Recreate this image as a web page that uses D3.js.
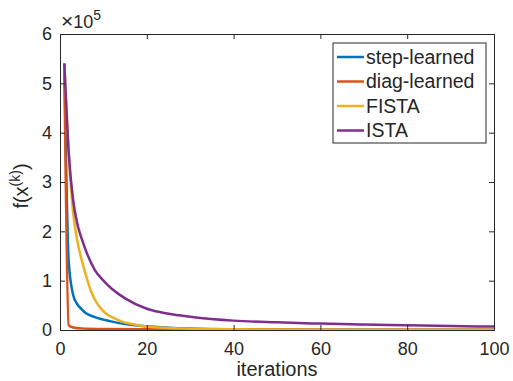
<!DOCTYPE html>
<html>
<head>
<meta charset="utf-8">
<script src="https://cdn.jsdelivr.net/npm/d3@7"></script>
<style>
  body { margin: 0; background: #fff; }
  text { font-family: "Liberation Sans", Arial, sans-serif; fill: #262626; }
</style>
</head>
<body>
<div id="chart"></div>
<script>
const stepIters = [1, 2, 3, 4, 5, 6, 8, 10, 12, 15, 20, 25, 30, 40, 60, 100];
const stepVals  = [5.4, 1.4, 0.72, 0.52, 0.42, 0.34, 0.26, 0.21, 0.17, 0.12, 0.075, 0.045, 0.028, 0.014, 0.006, 0.003];

const diagIters = [1, 2, 3, 5, 10, 30, 100];
const diagVals  = [5.4, 0.1, 0.05, 0.03, 0.02, 0.01, 0.005];

const fistaIters = [1, 2, 3, 4, 5, 6, 7, 8, 9, 10, 11, 12, 14, 16, 18, 20, 25, 30, 40, 60, 100];
const fistaVals  = [5.4, 3.6, 2.4, 1.8, 1.42, 1.1, 0.82, 0.62, 0.48, 0.38, 0.31, 0.26, 0.18, 0.13, 0.095, 0.07, 0.042, 0.027, 0.013, 0.006, 0.003];

const istaIters = [1, 2, 3, 4, 5, 6, 8, 10, 12, 15, 20, 25, 30, 40, 50, 60, 70, 80, 90, 100];
const istaVals  = [5.4, 3.6, 2.65, 2.15, 1.85, 1.6, 1.22, 1.0, 0.83, 0.64, 0.43, 0.33, 0.27, 0.19, 0.155, 0.13, 0.11, 0.095, 0.08, 0.07];

const seriesNames = ["step-learned", "diag-learned", "FISTA", "ISTA"];
const colors = ["#0072BD", "#D95319", "#EDB120", "#7E2F8E"];
const xTicks = [0, 20, 40, 60, 80, 100];
const yTicks = [0, 1, 2, 3, 4, 5, 6];

const width = 513, height = 381;
const margin = { left: 60, right: 19, top: 34, bottom: 51 };

const svg = d3.select("#chart").append("svg")
    .attr("width", width)
    .attr("height", height);

const x = d3.scaleLinear().domain([0, 100]).range([margin.left, width - margin.right]);
const y = d3.scaleLinear().domain([0, 6]).range([height - margin.bottom, margin.top]);

const series = [
    { iters: stepIters, vals: stepVals },
    { iters: diagIters, vals: diagVals },
    { iters: fistaIters, vals: fistaVals },
    { iters: istaIters, vals: istaVals }
];

// clip the curves to the plot box
svg.append("clipPath").attr("id", "clip")
  .append("rect")
    .attr("x", x(0)).attr("y", y(6))
    .attr("width", x(100) - x(0)).attr("height", y(0) - y(6));

const line = d3.line()
    .x(d => x(d[0]))
    .y(d => y(d[1]))
    .curve(d3.curveMonotoneX);

svg.append("g").attr("clip-path", "url(#clip)")
  .selectAll("path")
  .data(series)
  .join("path")
    .attr("d", s => line(s.iters.map((k, i) => [k, s.vals[i]])))
    .attr("fill", "none")
    .attr("stroke", (s, i) => colors[i])
    .attr("stroke-width", 2.5)
    .attr("stroke-linejoin", "round");

// axes, inward ticks on all four sides like matlab's box
const tickLen = 5;
const axisColor = "#262626";

const axB = svg.append("g")
    .attr("transform", `translate(0,${y(0)})`)
    .call(d3.axisBottom(x).tickValues(xTicks).tickSizeInner(-tickLen).tickSizeOuter(0).tickPadding(12));
const axT = svg.append("g")
    .attr("transform", `translate(0,${y(6)})`)
    .call(d3.axisTop(x).tickValues(xTicks).tickSizeInner(-tickLen).tickSizeOuter(0).tickFormat(""));
const axL = svg.append("g")
    .attr("transform", `translate(${x(0)},0)`)
    .call(d3.axisLeft(y).tickValues(yTicks).tickFormat(d3.format("d"))
        .tickSizeInner(-tickLen).tickSizeOuter(0).tickPadding(8));
const axR = svg.append("g")
    .attr("transform", `translate(${x(100)},0)`)
    .call(d3.axisRight(y).tickValues(yTicks).tickSizeInner(-tickLen).tickSizeOuter(0).tickFormat(""));

[axB, axT, axL, axR].forEach(g => {
    g.select(".domain").attr("stroke", axisColor).attr("stroke-width", 1);
    g.selectAll(".tick line").attr("stroke", axisColor);
    g.selectAll(".tick text").attr("font-size", 18).attr("fill", axisColor)
        .style("font-family", '"Liberation Sans", Arial, sans-serif');
});

// exponent label
const expo = svg.append("text")
    .attr("x", x(0) + 1)
    .attr("y", y(6) - 6)
    .attr("font-size", 18);
expo.append("tspan").attr("font-size", 21).text("×");
expo.append("tspan").text("10");
expo.append("tspan").attr("font-size", 14).attr("dy", -8).text("5");

// axis labels
svg.append("text")
    .attr("x", (x(0) + x(100)) / 2)
    .attr("y", 376)
    .attr("text-anchor", "middle")
    .attr("font-size", 20)
    .text("iterations");

const ylab = svg.append("text")
    .attr("transform", `translate(28,${(y(0) + y(6)) / 2 + 4}) rotate(-90)`)
    .attr("text-anchor", "middle")
    .attr("font-size", 20);
ylab.append("tspan").text("f(x");
ylab.append("tspan").attr("font-size", 14).attr("dy", -8).text("(k)");
ylab.append("tspan").attr("dy", 8).text(")");

// legend
const lg = svg.append("g");
lg.append("rect")
    .attr("x", 333).attr("y", 43)
    .attr("width", 153).attr("height", 100)
    .attr("fill", "#fff")
    .attr("stroke", axisColor)
    .attr("stroke-width", 1);

const item = lg.selectAll("g.item")
    .data(seriesNames)
    .join("g")
    .attr("class", "item")
    .attr("transform", (d, i) => `translate(0,${57 + i * 24.5})`);

item.append("line")
    .attr("x1", 337).attr("x2", 364)
    .attr("stroke", (d, i) => colors[i])
    .attr("stroke-width", 2.5);

item.append("text")
    .attr("x", 366)
    .attr("dy", "0.35em")
    .attr("font-size", 19.5)
    .attr("fill", "#000")
    .text(d => d);
</script>
</body>
</html>
